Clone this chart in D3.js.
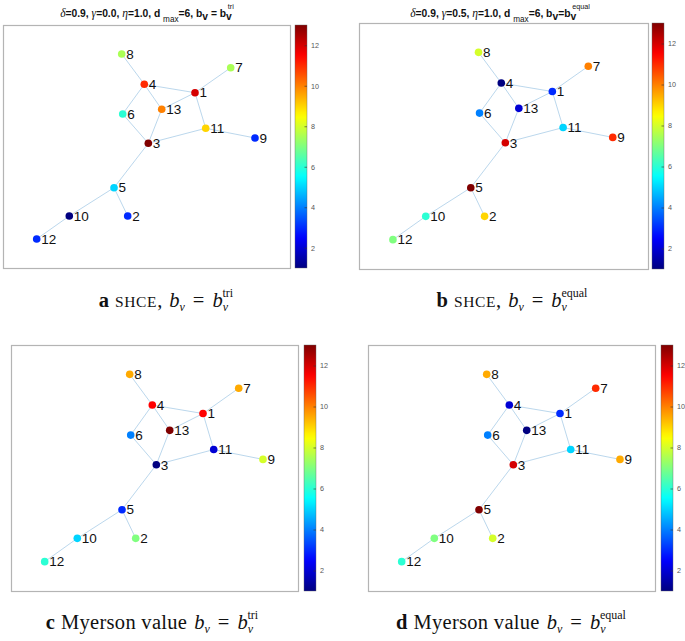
<!DOCTYPE html>
<html><head><meta charset="utf-8">
<script src="https://cdn.jsdelivr.net/npm/d3@7"></script>
<style>body{margin:0;background:#fff}svg{display:block}</style>
</head><body>
<svg id="chart" width="685" height="641"></svg>
<script>
// ---- data ----
const nodeIds = [1,2,3,4,5,6,7,8,9,10,11,12,13];
// graph layout coordinates (normalised layout units, y downward)
const layoutX = [0.669,0.4345,0.5063,0.4923,0.3868,0.4171,0.7934,0.4136,0.878,0.231,0.7063,0.1174,0.553];
const layoutY = [0.2786,0.786,0.4868,0.244,0.6695,0.3663,0.1757,0.1193,0.465,0.786,0.4251,0.8807,0.3469];
const edgeSource = [8,4,4,4,1,1,1,6,13,3,11,3,5,5,10];
const edgeTarget = [4,1,6,13,7,13,11,3,3,11,9,5,10,2,12];
// node ranks per panel (node order 1..13)
const valuesA = [12,3,13,11,5,6,7.5,7.5,3,1,9,3,10];
const valuesB = [3,9,12,1,13,4,10,8,11,6,5,7,2];
const valuesC = [11.5,7,1,11.5,3,4,9.5,9.5,8,5,2,6,13];
const valuesD = [3,8,12,2,13,4,11,9.5,9.5,7,5,6,1];
const colorDomain = [1,13];
const colorTicks = [2,4,6,8,10,12];
const gammaValues = ["0.0","0.5"];
const supLabels = ["tri","equal"];

// ---- helpers ----
function jet(t){
  const c = v => Math.max(0, Math.min(1, v));
  const r = c(1.5 - Math.abs(4*t - 3)), g = c(1.5 - Math.abs(4*t - 2)), b = c(1.5 - Math.abs(4*t - 1));
  return d3.rgb(r*255, g*255, b*255).formatHex();
}
const norm = d3.scaleLinear().domain(colorDomain).range([0,1]).clamp(true);
const colorOf = v => jet(norm(v));

const svg = d3.select("#chart");
const defs = svg.append("defs");
const grad = defs.append("linearGradient").attr("id","jetgrad")
  .attr("x1",0).attr("y1",1).attr("x2",0).attr("y2",0);
d3.range(0,1.0001,0.02).forEach(t => grad.append("stop").attr("offset",t).attr("stop-color",jet(t)));

const panels = [
  {vals: valuesA, fx0:3, fx1:290, fy0:25, fy1:268, cx0:295, cx1:307, cy0:25, cy1:268},
  {vals: valuesB, fx0:359, fx1:648, fy0:23, fy1:269, cx0:652, cx1:664, cy0:23, cy1:269},
  {vals: valuesC, fx0:11, fx1:298, fy0:345, fy1:591, cx0:304, cx1:316, cy0:345, cy1:591},
  {vals: valuesD, fx0:368, fx1:655, fy0:345, fy1:591, cx0:661, cx1:673, cy0:345, cy1:591}
];

panels.forEach(p => {
  const g = svg.append("g");
  g.append("rect").attr("x",p.fx0+0.5).attr("y",p.fy0+0.5)
    .attr("width",p.fx1-p.fx0).attr("height",p.fy1-p.fy0)
    .attr("fill","#fff").attr("stroke","#b4b4b4").attr("stroke-width",1.2);
  const x = d3.scaleLinear().domain([0,1]).range([p.fx0,p.fx1]);
  const y = d3.scaleLinear().domain([0,1]).range([p.fy0,p.fy1]);
  const idx = id => nodeIds.indexOf(id);
  g.selectAll("line.edge").data(edgeSource.map((s,i)=>[s,edgeTarget[i]])).join("line")
    .attr("class","edge")
    .attr("x1",d=>x(layoutX[idx(d[0])])).attr("y1",d=>y(layoutY[idx(d[0])]))
    .attr("x2",d=>x(layoutX[idx(d[1])])).attr("y2",d=>y(layoutY[idx(d[1])]))
    .attr("stroke","#b3d3ea").attr("stroke-width",0.9);
  g.selectAll("circle").data(nodeIds).join("circle")
    .attr("cx",(d,i)=>x(layoutX[i])).attr("cy",(d,i)=>y(layoutY[i]))
    .attr("r",3.8).attr("fill",(d,i)=>colorOf(p.vals[i]));
  g.selectAll("text.lab").data(nodeIds).join("text")
    .attr("class","lab")
    .attr("x",(d,i)=>x(layoutX[i])+4.5).attr("y",(d,i)=>y(layoutY[i])+4.8)
    .attr("font-family","'Liberation Sans', Arial, Helvetica, sans-serif")
    .attr("font-size",13.5).attr("fill","#111").text(d=>d);
  // colorbar
  const cs = d3.scaleLinear().domain(colorDomain).range([p.cy1,p.cy0]);
  g.append("rect").attr("x",p.cx0).attr("y",p.cy0).attr("width",p.cx1-p.cx0).attr("height",p.cy1-p.cy0)
    .attr("fill","url(#jetgrad)").attr("stroke","#666").attr("stroke-width",0.4);
  const ax = g.append("g").attr("transform",`translate(${p.cx1},0)`)
    .call(d3.axisRight(cs).tickValues(colorTicks).tickSize(-2.5).tickPadding(4));
  ax.select(".domain").remove();
  ax.selectAll(".tick line").attr("stroke","#333").attr("stroke-width",0.6);
  ax.selectAll("text").attr("font-family","'Liberation Sans', Arial, sans-serif").attr("font-size",7.2).attr("fill","#555");
});

// ---- titles ----
function title(cx, gam, sup, spaced){
  const t = svg.append("text").attr("x",cx).attr("y",17).attr("text-anchor","middle")
    .attr("font-family","'Liberation Sans', Arial, Helvetica, sans-serif").attr("font-size",10.3).attr("font-weight","bold").attr("fill","#111");
  const greek = s => t.append("tspan").attr("font-family","'Liberation Serif', 'Times New Roman', serif")
    .attr("font-style","italic").attr("font-weight","normal").attr("font-size",11.5).text(s);
  greek("δ"); t.append("tspan").text("=0.9, ");
  greek("γ"); t.append("tspan").text("=" + gam + ", ");
  greek("η"); t.append("tspan").text("=1.0, d ");
  t.append("tspan").attr("font-size",8.2).attr("font-weight","normal").attr("dy",5).text("max");
  t.append("tspan").attr("dy",-5).text("=6, b");
  t.append("tspan").attr("dy",3).text("v");
  t.append("tspan").attr("dy",-3).text(spaced ? " = b" : "=b");
  t.append("tspan").attr("dy",3).text("v");
  t.append("tspan").attr("font-size",7.2).attr("font-weight","normal").attr("dy",-11).attr("dx",-4).text(sup);
}
title(147, gammaValues[0], supLabels[0], true);
title(500, gammaValues[1], supLabels[1], false);

// ---- captions ----
function caption(cx, cy, letter, label, smallcaps, sup){
  const t = svg.append("text").attr("x",cx).attr("y",cy).attr("text-anchor","middle")
    .attr("font-family","'Liberation Serif', 'DejaVu Serif', serif").attr("font-size",20.5).attr("fill","#111");
  t.append("tspan").attr("font-weight","bold").text(letter);
  if(smallcaps){ t.append("tspan").attr("dx",6).attr("font-size",15.5).attr("letter-spacing",0.6).text(label); t.append("tspan").text(","); }
  else t.append("tspan").attr("dx",6).attr("letter-spacing",0.3).text(label);
  t.append("tspan").attr("dx",7).attr("font-style","italic").text("b");
  t.append("tspan").attr("font-style","italic").attr("font-size",12).attr("dy",4).text("v");
  t.append("tspan").attr("dy",-4).attr("dx",8).text("=");
  t.append("tspan").attr("dx",8).attr("font-style","italic").text("b");
  t.append("tspan").attr("font-style","italic").attr("font-size",12).attr("dy",4).text("v");
  t.append("tspan").attr("font-size",12).attr("dy",-14).attr("dx",-5.5).text(sup);
}
caption(166,307,"a","SHCE",true,supLabels[0]);
caption(512,307,"b","SHCE",true,supLabels[1]);
caption(152,629,"c","Myerson value",false,supLabels[0]);
caption(511,629,"d","Myerson value",false,supLabels[1]);
</script>
</body></html>
